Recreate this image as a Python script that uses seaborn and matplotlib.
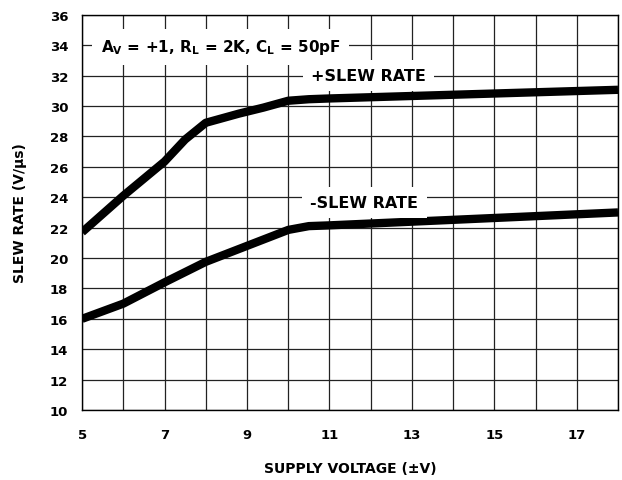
import numpy as np
import pandas as pd
import matplotlib
matplotlib.use("Agg")
import matplotlib.pyplot as plt
import seaborn as sns

# values
plus_v = [5, 6, 7, 7.5, 8, 8.8, 9.4, 10, 10.5, 11, 18]
plus_sr = [21.7, 24.1, 26.35, 27.8, 28.9, 29.5, 29.9, 30.35, 30.45, 30.5, 31.07]
minus_v = [5, 6, 7, 8, 9, 10, 10.5, 11, 18]
minus_sr = [16.0, 17.0, 18.4, 19.75, 20.8, 21.85, 22.1, 22.15, 23.0]
x_ticks = [5, 7, 9, 11, 13, 15, 17]
y_ticks = list(range(10, 37, 2))

sns.set_style("white")
plt.rcParams['font.family'] = ['DejaVu Sans']
plt.rcParams['font.weight'] = 'bold'
plt.rcParams['text.color'] = 'black'
plt.rcParams['axes.labelcolor'] = 'black'
plt.rcParams['xtick.color'] = 'black'
plt.rcParams['ytick.color'] = 'black'
plt.rcParams['mathtext.fontset'] = 'custom'
plt.rcParams['mathtext.rm'] = 'DejaVu Sans:bold'
plt.rcParams['mathtext.it'] = 'DejaVu Sans:bold'
plt.rcParams['mathtext.bf'] = 'DejaVu Sans:bold'

df = pd.concat([
    pd.DataFrame({'v': plus_v, 'sr': plus_sr, 'curve': '+'}),
    pd.DataFrame({'v': minus_v, 'sr': minus_sr, 'curve': '-'}),
])

fig = plt.figure(figsize=(6.22, 4.81), dpi=100)
ax = fig.add_axes([0.132, 0.1455, 0.8616, 0.8215])

sns.lineplot(data=df, x='v', y='sr', units='curve', estimator=None,
             color='black', lw=6, ax=ax, solid_capstyle='butt', zorder=3)

ax.set_xlim(5, 18)
ax.set_ylim(10, 36)
ax.set_xticks(np.arange(5, 19, 1), minor=True)
ax.set_xticks(x_ticks)
ax.set_yticks(y_ticks)
ax.grid(True, which='both', axis='x', color='#222222', lw=0.9)
ax.grid(True, which='major', axis='y', color='#222222', lw=0.9)
ax.tick_params(which='both', length=0, labelsize=9.5)
ax.tick_params(axis='x', pad=13)
ax.tick_params(axis='y', pad=10)
for s in ax.spines.values():
    s.set_color('black')
    s.set_linewidth(1)

ax.set_xlabel('SUPPLY VOLTAGE (±V)', fontsize=10, fontweight='bold', labelpad=14)
ax.set_ylabel('SLEW RATE (V/µs)', fontsize=10, fontweight='bold', labelpad=16)

box = dict(facecolor='white', edgecolor='none', pad=6)
ax.text(5.45, 33.9, r'A$_\mathrm{V}$ = +1, R$_\mathrm{L}$ = 2K, C$_\mathrm{L}$ = 50pF',
        fontsize=11, fontweight='bold', va='center', ha='left', bbox=box, zorder=4)
ax.text(11.95, 32.0, '+SLEW RATE', fontsize=11.5, fontweight='bold',
        va='center', ha='center', bbox=box, zorder=4)
ax.text(11.85, 23.65, '-SLEW RATE', fontsize=11.5, fontweight='bold',
        va='center', ha='center', bbox=box, zorder=4)

fig.savefig('out.png', dpi=100)
